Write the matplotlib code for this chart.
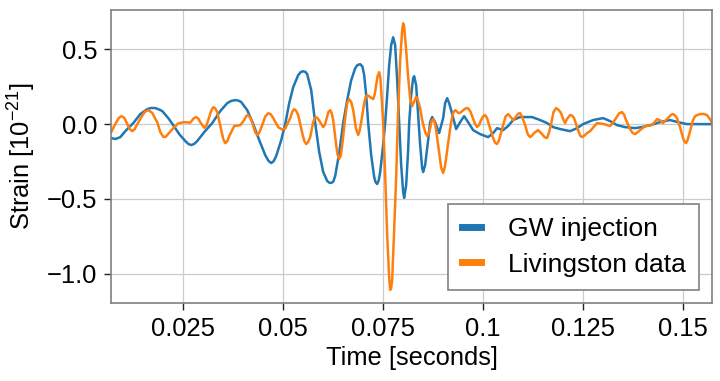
import numpy as np
import matplotlib
matplotlib.use("Agg")
import matplotlib.pyplot as plt
from matplotlib.lines import Line2D

plt.rcParams['font.family'] = ['Liberation Sans', 'DejaVu Sans']
plt.rcParams['mathtext.fontset'] = 'custom'
plt.rcParams['mathtext.rm'] = 'Liberation Sans'
plt.rcParams['mathtext.it'] = 'Liberation Sans:italic'
plt.rcParams['font.size'] = 18.4

# GW injection (time in ms, strain in 1e-21)
inj_t = [7.00, 8.00, 9.25, 10.75, 12.50, 14.25, 16.00, 17.00, 18.00, 19.00,
         19.75, 21.25, 22.50, 24.00, 25.50, 26.30, 27.00, 27.70, 28.50, 30.25,
         32.25, 34.25, 36.00, 37.00, 38.00, 38.80, 39.50, 41.00, 42.50, 44.00,
         45.50, 46.30, 47.00, 47.60, 48.25, 49.50, 50.50, 51.50, 52.50, 53.75,
         54.40, 55.00, 55.60, 56.00, 57.00, 58.00, 59.00, 60.00, 61.00, 61.50,
         62.00, 62.50, 63.00, 64.00, 65.00, 66.00, 67.00, 68.00, 68.60, 69.25,
         69.80, 70.25, 70.75, 71.25, 72.00, 72.75, 73.10, 73.50, 73.90, 74.25,
         75.00, 75.50, 76.00, 76.50, 77.00, 77.50, 78.00, 78.50, 79.00, 79.50,
         80.00, 80.25, 80.75, 81.25, 81.50, 82.00, 82.50, 82.75, 83.25, 83.75,
         84.25, 84.75, 85.00, 85.50, 86.25, 86.75, 87.25, 88.00, 89.00, 90.00,
         90.50, 91.00, 91.50, 92.00, 93.25, 94.25, 95.25, 96.25, 97.50, 99.25,
         101.25, 102.50, 103.50, 105.00, 106.25, 107.50, 109.25, 112.25, 114.25, 116.00,
         117.50, 119.25, 121.75, 123.50, 125.00, 127.50, 130.00, 131.75, 133.50, 135.50,
         138.00, 139.75, 141.75, 144.25, 146.75, 148.75, 151.00, 154.25, 157.25]
inj_s = [-0.093, -0.100, -0.087, -0.040, 0.007, 0.067, 0.100, 0.108, 0.107, 0.097,
         0.087, 0.040, -0.007, -0.067, -0.113, -0.133, -0.140, -0.133, -0.113, -0.053,
         0.007, 0.087, 0.140, 0.155, 0.160, 0.157, 0.147, 0.093, 0.000, -0.107,
         -0.207, -0.245, -0.260, -0.248, -0.213, -0.107, 0.000, 0.140, 0.247, 0.327,
         0.348, 0.353, 0.348, 0.333, 0.227, 0.007, -0.187, -0.320, -0.380, -0.391,
         -0.393, -0.385, -0.347, -0.193, 0.007, 0.160, 0.293, 0.373, 0.395, 0.400,
         0.385, 0.327, 0.193, 0.007, -0.207, -0.353, -0.388, -0.400, -0.375, -0.320,
         -0.140, 0.007, 0.193, 0.393, 0.527, 0.580, 0.527, 0.293, 0.007, -0.273,
         -0.453, -0.493, -0.407, -0.173, 0.007, 0.193, 0.307, 0.320, 0.260, 0.060,
         -0.140, -0.293, -0.320, -0.273, -0.107, 0.013, 0.047, 0.013, -0.060, 0.040,
         0.140, 0.173, 0.140, 0.093, -0.033, 0.013, 0.053, 0.013, -0.040, -0.067,
         -0.087, -0.060, -0.027, -0.040, -0.013, 0.027, 0.047, 0.047, 0.027, 0.007,
         -0.020, -0.033, -0.047, -0.027, 0.000, 0.027, 0.040, 0.020, -0.007, -0.020,
         -0.027, -0.020, -0.007, 0.013, 0.027, 0.013, 0.000, 0.000, 0.000]

# Livingston data (time in ms, strain in 1e-21)
liv_t = [7.00, 7.60, 8.25, 8.90, 9.50, 10.25, 11.00, 11.60, 12.25, 12.80,
         13.25, 14.50, 15.40, 16.25, 17.25, 18.00, 18.50, 19.25, 20.00, 20.60,
         21.00, 22.50, 23.75, 25.25, 26.75, 27.60, 28.25, 28.80, 29.25, 30.25,
         30.80, 31.25, 32.00, 32.50, 33.00, 33.50, 34.50, 35.00, 35.50, 36.00,
         36.50, 37.75, 39.25, 40.25, 40.80, 41.25, 41.80, 42.25, 43.00, 43.50,
         44.00, 44.75, 45.50, 46.25, 46.90, 47.50, 48.75, 49.60, 50.50, 51.75,
         52.30, 52.75, 53.20, 53.75, 54.75, 55.30, 55.75, 56.20, 56.75, 57.50,
         57.90, 58.25, 58.70, 59.25, 60.00, 60.40, 60.75, 61.30, 61.75, 62.10,
         62.50, 63.25, 63.60, 64.00, 64.40, 64.75, 65.50, 66.00, 66.50, 67.00,
         67.50, 68.20, 68.75, 69.10, 69.50, 70.25, 70.60, 71.00, 71.40, 71.75,
         72.50, 72.90, 73.25, 73.60, 74.00, 74.30, 74.50, 75.00, 75.50, 76.00,
         76.50, 76.75, 77.00, 77.25, 77.75, 78.25, 78.75, 79.25, 79.75, 80.00,
         80.25, 80.75, 81.25, 81.75, 82.25, 82.75, 83.20, 83.50, 84.25, 84.75,
         85.50, 86.00, 86.40, 86.75, 87.10, 87.50, 87.90, 88.25, 89.00, 89.50,
         90.00, 90.40, 90.75, 91.25, 92.00, 92.50, 93.00, 93.40, 93.75, 94.25,
         95.25, 95.80, 96.25, 96.80, 97.25, 98.00, 98.50, 99.00, 99.50, 100.00,
         100.50, 101.00, 101.50, 102.50, 103.00, 103.50, 104.00, 104.25, 105.00, 105.60,
         106.25, 106.80, 107.50, 108.25, 108.80, 109.25, 109.80, 110.50, 111.20, 111.75,
         112.30, 112.75, 113.75, 114.75, 115.40, 116.00, 116.50, 117.00, 117.60, 118.25,
         118.90, 119.50, 120.00, 120.50, 121.00, 121.75, 122.20, 122.75, 123.75, 124.30,
         124.75, 125.40, 126.00, 126.75, 128.50, 130.25, 131.75, 132.50, 133.25, 134.00,
         134.75, 135.30, 135.75, 136.75, 137.40, 138.00, 138.60, 139.25, 140.50, 142.25,
         143.50, 144.30, 145.00, 146.25, 147.00, 147.50, 148.00, 148.50, 149.25, 150.00,
         150.40, 150.75, 151.10, 151.50, 152.50, 153.00, 153.50, 154.25, 155.20, 156.00,
         156.75, 157.25]
liv_s = [-0.053, -0.020, 0.013, 0.042, 0.053, 0.042, 0.000, -0.033, -0.047, -0.035,
         -0.013, 0.047, 0.082, 0.093, 0.075, 0.035, 0.013, -0.053, -0.085, -0.085,
         -0.073, -0.027, 0.005, 0.013, 0.010, 0.038, 0.047, 0.035, 0.013, -0.025,
         -0.010, 0.027, 0.090, 0.113, 0.105, 0.080, -0.040, -0.100, -0.127, -0.115,
         -0.080, -0.013, -0.007, 0.027, 0.055, 0.060, 0.040, 0.013, -0.055, -0.073,
         -0.058, -0.007, 0.050, 0.073, 0.065, 0.040, -0.020, -0.035, -0.030, 0.040,
         0.085, 0.100, 0.090, 0.060, -0.060, -0.115, -0.133, -0.120, -0.087, 0.013,
         0.040, 0.047, 0.035, 0.013, -0.020, -0.005, 0.027, 0.080, 0.093, 0.075,
         0.027, -0.140, -0.205, -0.233, -0.210, -0.140, 0.040, 0.140, 0.167, 0.148,
         0.093, -0.030, -0.073, -0.045, 0.013, 0.140, 0.180, 0.193, 0.188, 0.180,
         0.167, 0.200, 0.260, 0.320, 0.347, 0.310, 0.227, 0.007, -0.340, -0.740,
         -1.027, -1.107, -1.095, -1.040, -0.707, -0.353, 0.093, 0.427, 0.627, 0.673,
         0.653, 0.493, 0.313, 0.173, 0.120, 0.150, 0.180, 0.175, 0.107, 0.027,
         -0.053, -0.080, -0.065, -0.027, 0.020, 0.033, 0.010, -0.040, -0.187, -0.290,
         -0.327, -0.290, -0.227, -0.127, 0.013, 0.075, 0.093, 0.085, 0.075, 0.075,
         0.098, 0.107, 0.105, 0.085, 0.053, 0.000, -0.020, -0.005, 0.027, 0.052,
         0.060, 0.040, -0.007, -0.093, -0.125, -0.133, -0.105, -0.080, -0.007, 0.050,
         0.067, 0.050, 0.027, 0.050, 0.070, 0.073, 0.045, -0.007, -0.070, -0.087,
         -0.075, -0.060, -0.040, -0.067, -0.088, -0.093, -0.055, 0.000, 0.080, 0.107,
         0.095, 0.073, 0.035, 0.007, 0.035, 0.060, 0.058, 0.040, -0.040, -0.078,
         -0.087, -0.075, -0.060, -0.047, 0.007, 0.000, -0.013, 0.010, 0.040, 0.072,
         0.080, 0.060, 0.027, -0.033, -0.060, -0.067, -0.055, -0.040, -0.013, -0.007,
         0.033, 0.025, 0.007, 0.040, 0.062, 0.067, 0.058, 0.040, -0.020, -0.093,
         -0.118, -0.127, -0.110, -0.073, 0.027, 0.052, 0.060, 0.067, 0.068, 0.060,
         0.033, 0.007]

xticks = [0.025, 0.05, 0.075, 0.1, 0.125, 0.15]
xticklabels = ['0.025', '0.05', '0.075', '0.1', '0.125', '0.15']
yticks = [0.5, 0.0, -0.5, -1.0]
yticklabels = ['0.5', '0.0', '\u22120.5', '\u22121.0']

blue = '#1f77b4'
orange = '#ff7f0e'

fig = plt.figure(figsize=(7.2, 3.81), dpi=100)
ax = fig.add_axes([0.1542, 0.2047, 0.8347, 0.769])

ax.plot(np.array(inj_t) / 1000, inj_s, color=blue, lw=1.8,
        solid_joinstyle='round')
ax.plot(np.array(liv_t) / 1000, liv_s, color=orange, lw=1.8,
        solid_joinstyle='round')

ax.set_xlim(0.00693, 0.15725)
ax.set_ylim(-1.195, 0.762)
ax.set_xticks(xticks)
ax.set_xticklabels(xticklabels)
ax.set_yticks(yticks)
ax.set_yticklabels(yticklabels)
ax.grid(True, color='#cccccc', lw=0.9)
ax.set_axisbelow(True)
for sp in ax.spines.values():
    sp.set_color('#808080')
    sp.set_linewidth(1.2)
ax.tick_params(direction='out', length=5, width=1, color='#222222', pad=5)

ax.set_xlabel('Time [seconds]', labelpad=4)
ax.set_ylabel('Strain [$10^{-21}$]', labelpad=6)

handles = [Line2D([], [], color=blue, lw=5), Line2D([], [], color=orange, lw=5)]
leg = ax.legend(handles, ['GW injection', 'Livingston data'], loc='lower right',
                fontsize=19, handlelength=0.75, handletextpad=1.0,
                borderpad=0.5, labelspacing=0.45, borderaxespad=0.5,
                fancybox=False, framealpha=1, edgecolor='#808080')
leg.get_frame().set_linewidth(1.2)

fig.savefig('out.png', dpi=100)
